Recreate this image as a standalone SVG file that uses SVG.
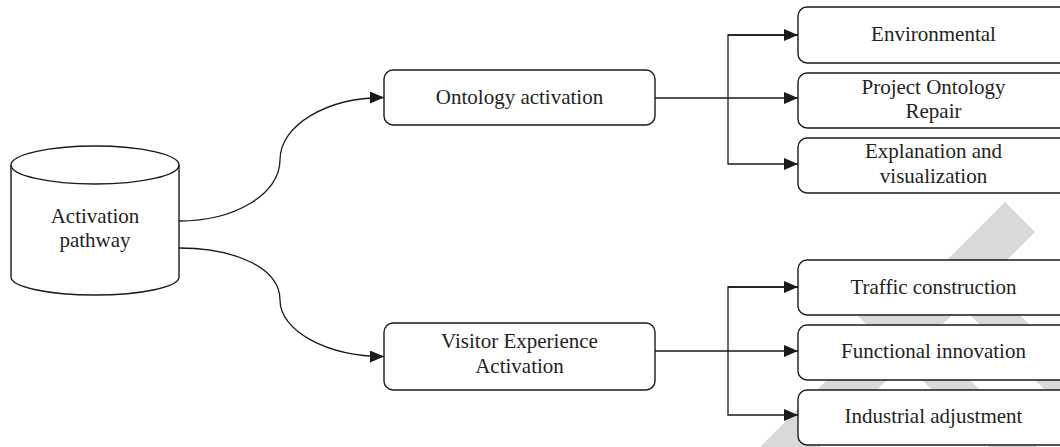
<svg xmlns="http://www.w3.org/2000/svg" width="1060" height="447" viewBox="0 0 1060 447">
  <style>
    .box { fill: #ffffff; stroke: #1a1a1a; stroke-width: 1.4; }
    .lbl { font-family: "Liberation Serif", "Times New Roman", serif; font-size: 21px; fill: #231f20; text-anchor: middle; }
    .con { fill: none; stroke: #1a1a1a; stroke-width: 1.3; }
    .wm { fill: #d9d9d9; stroke: none; }
  </style>
  <defs>
    <marker id="arr" viewBox="0 0 14 12" refX="14" refY="6" markerWidth="14" markerHeight="12" markerUnits="userSpaceOnUse" orient="auto">
      <path d="M0,0 L14,6 L0,12 Z" fill="#1a1a1a"/>
    </marker>
  </defs>
  <rect x="0" y="0" width="1060" height="447" fill="#ffffff"/>

  <g id="watermark">
    <polygon class="wm" points="1005,202 1035,232 820,447 760,447"/>
    <polygon class="wm" points="986,281 1060,355 1060,405 961,306"/>
    <polygon class="wm" points="850,308 898,308 1037,447 989,447"/>
  </g>

  <g id="connectors">
    <path class="con" d="M179,221 C235,221 280,194 280,160 C280,125 327,97.5 384,97.5" marker-end="url(#arr)"/>
    <path class="con" d="M179,248 C235,248 280,268 280,300 C280,331 327,356.5 384,356.5" marker-end="url(#arr)"/>
    <path class="con" d="M655,98 L798,98" marker-end="url(#arr)"/>
    <path class="con" d="M798,35 L728,35 L728,164 L798,164" marker-end="url(#arr)"/>
    <path class="con" d="M728,35 L798,35" marker-end="url(#arr)"/>
    <path class="con" d="M655,351 L798,351" marker-end="url(#arr)"/>
    <path class="con" d="M798,287 L728,287 L728,415 L798,415" marker-end="url(#arr)"/>
    <path class="con" d="M728,287 L798,287" marker-end="url(#arr)"/>
  </g>

  <g id="activation-pathway">
    <path class="box" d="M11,165 L11,277 A84,18 0 0 0 179,277 L179,165"/>
    <ellipse class="box" cx="95" cy="165" rx="84" ry="19"/>
    <text class="lbl" x="95" y="223">Activation</text>
    <text class="lbl" x="95" y="247">pathway</text>
  </g>

  <g id="ontology-activation">
    <rect class="box" x="384" y="70" width="271" height="55" rx="9"/>
    <text class="lbl" x="519.5" y="104">Ontology activation</text>
  </g>

  <g id="visitor-experience-activation">
    <rect class="box" x="384" y="323" width="271" height="67" rx="9"/>
    <text class="lbl" x="519.5" y="348">Visitor Experience</text>
    <text class="lbl" x="519.5" y="373">Activation</text>
  </g>

  <g id="environmental">
    <rect class="box" x="798" y="7" width="271" height="56" rx="9"/>
    <text class="lbl" x="933.5" y="41">Environmental</text>
  </g>

  <g id="project-ontology-repair">
    <rect class="box" x="798" y="73" width="271" height="55" rx="9"/>
    <text class="lbl" x="933.5" y="94">Project Ontology</text>
    <text class="lbl" x="933.5" y="118">Repair</text>
  </g>

  <g id="explanation-visualization">
    <rect class="box" x="798" y="138" width="271" height="55" rx="9"/>
    <text class="lbl" x="933.5" y="158">Explanation and</text>
    <text class="lbl" x="933.5" y="183">visualization</text>
  </g>

  <g id="traffic-construction">
    <rect class="box" x="798" y="260" width="271" height="55" rx="9"/>
    <text class="lbl" x="933.5" y="294">Traffic construction</text>
  </g>

  <g id="functional-innovation">
    <rect class="box" x="798" y="325" width="271" height="55" rx="9"/>
    <text class="lbl" x="933.5" y="358">Functional innovation</text>
  </g>

  <g id="industrial-adjustment">
    <rect class="box" x="798" y="390" width="271" height="55" rx="9"/>
    <text class="lbl" x="933.5" y="423">Industrial adjustment</text>
  </g>
</svg>
